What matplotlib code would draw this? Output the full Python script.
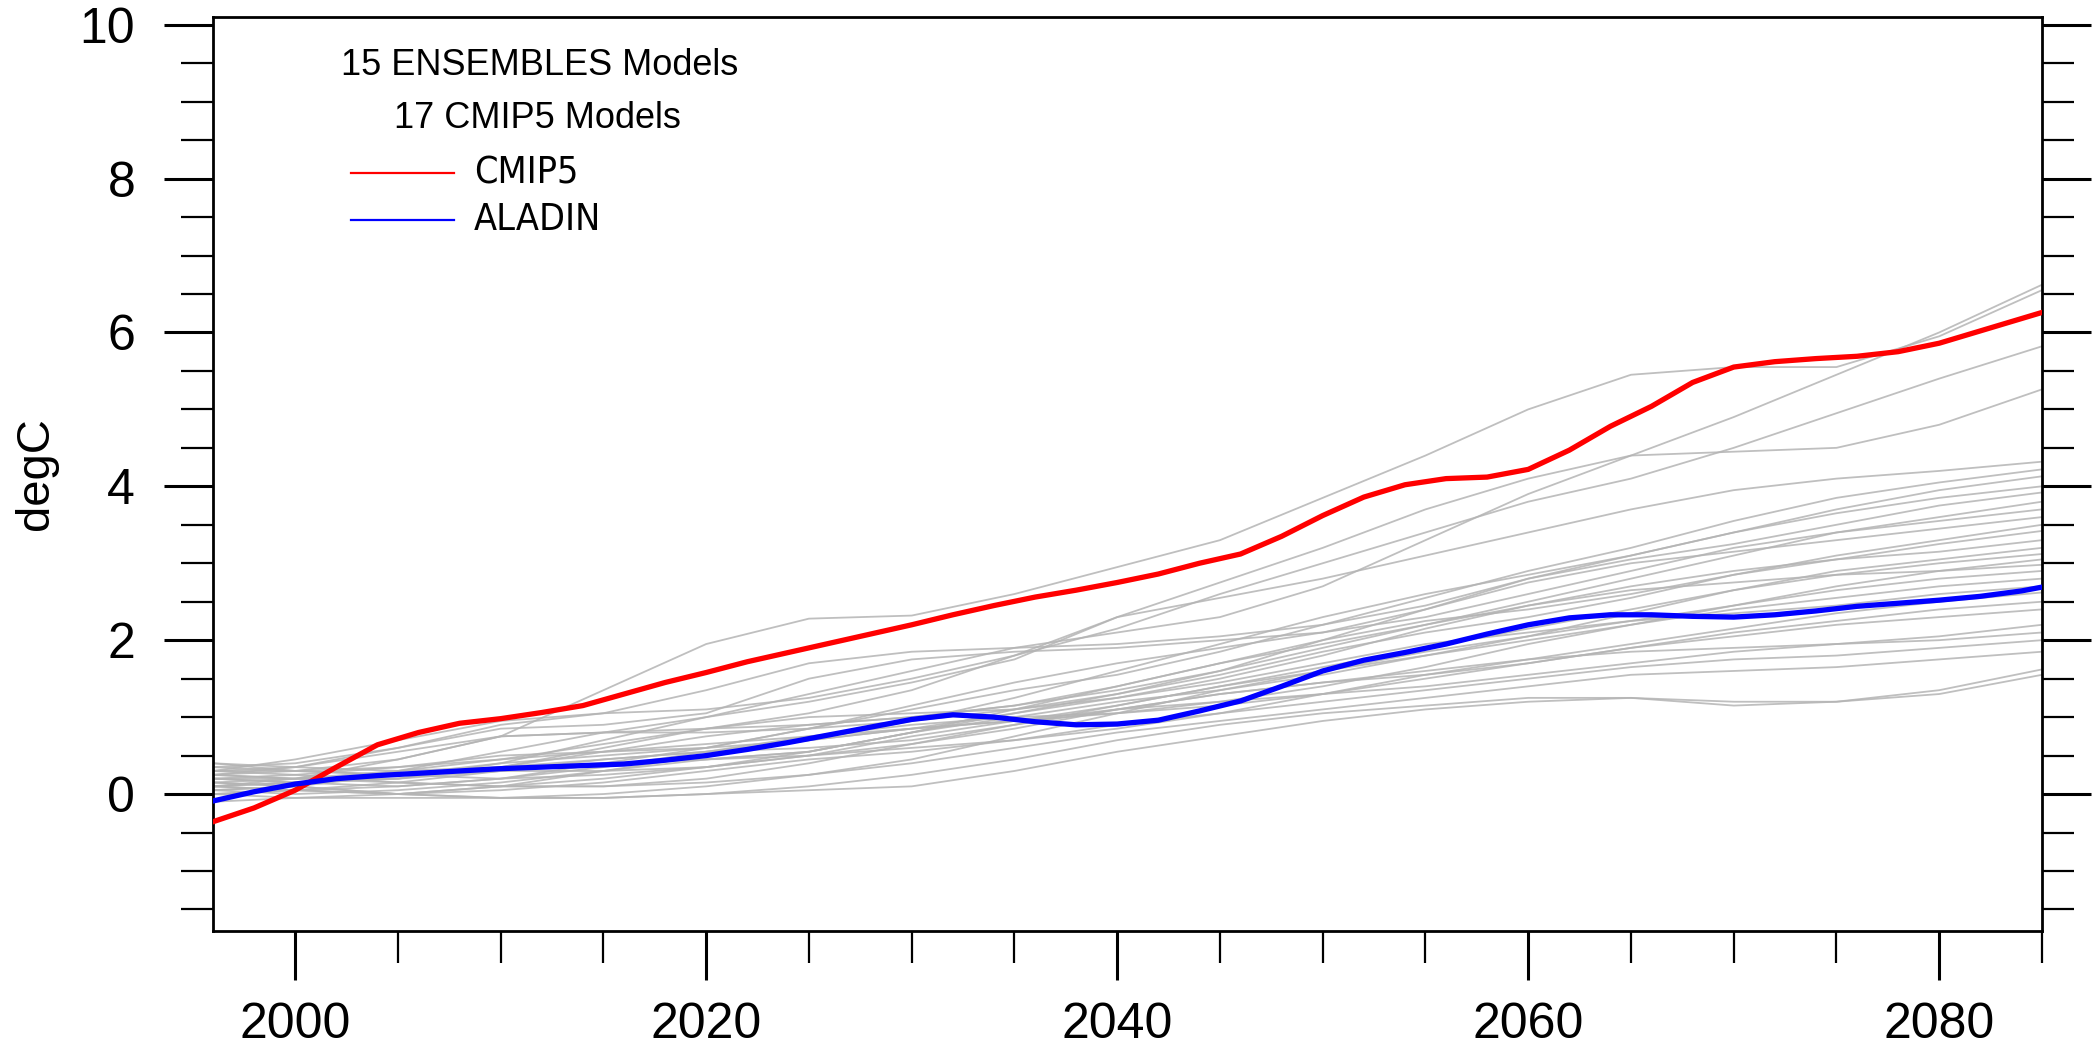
import numpy as np
import matplotlib
matplotlib.use('Agg')
import matplotlib.pyplot as plt
from matplotlib.ticker import MultipleLocator

# years for the ensemble members (read every 5 years)
years = [1996, 2000, 2005, 2010, 2015, 2020, 2025, 2030, 2035, 2040,
         2045, 2050, 2055, 2060, 2065, 2070, 2075, 2080, 2085]

# individual model runs (grey), degC
members = [
    [0.25, 0.30, 0.45, 0.75, 1.35, 1.95, 2.28, 2.32, 2.60, 2.95, 3.30, 3.85, 4.40, 5.00, 5.45, 5.55, 5.55, 5.95, 6.55],
    [0.10, 0.15, 0.20, 0.40, 0.70, 1.00, 1.30, 1.60, 1.90, 2.10, 2.30, 2.70, 3.30, 3.90, 4.40, 4.90, 5.45, 6.00, 6.62],
    [0.30, 0.35, 0.60, 0.90, 1.05, 1.10, 1.25, 1.50, 1.80, 2.15, 2.60, 3.00, 3.40, 3.80, 4.10, 4.50, 4.95, 5.40, 5.82],
    [0.05, 0.10, 0.30, 0.55, 0.80, 1.00, 1.20, 1.45, 1.75, 2.30, 2.75, 3.20, 3.70, 4.10, 4.40, 4.45, 4.50, 4.80, 5.26],
    [0.40, 0.30, 0.25, 0.35, 0.60, 0.85, 1.05, 1.35, 1.80, 2.30, 2.55, 2.80, 3.10, 3.40, 3.70, 3.95, 4.10, 4.20, 4.32],
    [0.20, 0.15, 0.10, 0.20, 0.40, 0.60, 0.85, 1.10, 1.35, 1.55, 1.85, 2.20, 2.55, 2.90, 3.20, 3.55, 3.85, 4.05, 4.22],
    [0.00, 0.05, 0.15, 0.30, 0.45, 0.55, 0.70, 0.95, 1.25, 1.60, 1.95, 2.30, 2.60, 2.85, 3.10, 3.40, 3.70, 3.95, 4.13],
    [0.30, 0.45, 0.70, 0.95, 1.05, 1.35, 1.70, 1.85, 1.90, 1.95, 2.05, 2.20, 2.45, 2.80, 3.10, 3.40, 3.65, 3.85, 4.00],
    [0.15, 0.20, 0.30, 0.45, 0.65, 0.85, 1.00, 1.05, 1.10, 1.30, 1.60, 2.00, 2.40, 2.80, 3.05, 3.25, 3.50, 3.75, 3.92],
    [0.10, 0.05, 0.00, 0.10, 0.30, 0.45, 0.55, 0.80, 1.10, 1.40, 1.70, 1.95, 2.20, 2.50, 2.80, 3.10, 3.40, 3.60, 3.80],
    [0.35, 0.40, 0.60, 0.85, 0.90, 1.05, 1.50, 1.75, 1.85, 1.90, 2.00, 2.10, 2.30, 2.60, 2.90, 3.20, 3.40, 3.55, 3.70],
    [0.05, 0.10, 0.25, 0.40, 0.50, 0.60, 0.85, 1.15, 1.45, 1.70, 1.90, 2.10, 2.40, 2.75, 3.00, 3.15, 3.30, 3.45, 3.60],
    [0.20, 0.25, 0.35, 0.50, 0.55, 0.60, 0.70, 0.85, 1.05, 1.30, 1.55, 1.85, 2.10, 2.30, 2.55, 2.85, 3.10, 3.30, 3.50],
    [0.25, 0.20, 0.20, 0.35, 0.55, 0.75, 0.90, 1.00, 1.15, 1.40, 1.70, 2.00, 2.25, 2.40, 2.60, 2.85, 3.05, 3.25, 3.42],
    [0.10, 0.20, 0.45, 0.75, 0.80, 0.80, 0.85, 0.95, 1.10, 1.25, 1.50, 1.80, 2.15, 2.45, 2.70, 2.90, 3.05, 3.15, 3.30],
    [0.00, -0.05, 0.00, 0.10, 0.20, 0.35, 0.55, 0.80, 1.00, 1.20, 1.35, 1.55, 1.80, 2.05, 2.35, 2.65, 2.90, 3.05, 3.20],
    [0.30, 0.30, 0.35, 0.45, 0.55, 0.65, 0.75, 0.85, 0.95, 1.15, 1.40, 1.65, 1.90, 2.15, 2.40, 2.65, 2.85, 3.00, 3.12],
    [0.15, 0.10, 0.00, -0.05, 0.00, 0.10, 0.25, 0.45, 0.75, 1.05, 1.35, 1.60, 1.85, 2.05, 2.25, 2.45, 2.70, 2.90, 3.05],
    [0.25, 0.35, 0.55, 0.75, 0.80, 0.85, 0.90, 1.00, 1.15, 1.35, 1.60, 1.90, 2.20, 2.45, 2.65, 2.75, 2.85, 2.90, 2.98],
    [0.05, 0.00, 0.05, 0.15, 0.30, 0.50, 0.70, 0.85, 0.95, 1.05, 1.20, 1.40, 1.65, 1.95, 2.20, 2.45, 2.65, 2.80, 2.90],
    [0.40, 0.35, 0.30, 0.35, 0.45, 0.55, 0.60, 0.70, 0.90, 1.15, 1.40, 1.60, 1.80, 2.00, 2.20, 2.40, 2.55, 2.70, 2.80],
    [0.20, 0.15, 0.20, 0.30, 0.40, 0.45, 0.55, 0.80, 1.05, 1.25, 1.45, 1.70, 1.95, 2.10, 2.25, 2.35, 2.45, 2.60, 2.70],
    [0.10, 0.15, 0.25, 0.35, 0.40, 0.45, 0.50, 0.65, 0.85, 1.10, 1.30, 1.45, 1.60, 1.75, 1.95, 2.15, 2.35, 2.50, 2.62],
    [0.30, 0.25, 0.15, 0.10, 0.10, 0.20, 0.40, 0.65, 0.90, 1.10, 1.30, 1.45, 1.55, 1.70, 1.90, 2.10, 2.25, 2.40, 2.50],
    [0.00, 0.05, 0.10, 0.20, 0.35, 0.55, 0.75, 0.90, 1.00, 1.05, 1.15, 1.30, 1.50, 1.70, 1.90, 2.05, 2.20, 2.30, 2.40],
    [0.20, 0.20, 0.25, 0.30, 0.30, 0.35, 0.50, 0.75, 0.95, 1.10, 1.20, 1.30, 1.40, 1.55, 1.70, 1.85, 1.95, 2.05, 2.20],
    [0.35, 0.30, 0.25, 0.20, 0.25, 0.35, 0.50, 0.60, 0.70, 0.85, 1.05, 1.30, 1.55, 1.75, 1.85, 1.90, 1.95, 2.00, 2.10],
    [0.10, 0.05, 0.00, 0.05, 0.15, 0.30, 0.45, 0.55, 0.70, 0.90, 1.05, 1.20, 1.35, 1.50, 1.65, 1.75, 1.80, 1.90, 2.00],
    [0.25, 0.20, 0.15, 0.10, 0.10, 0.15, 0.25, 0.40, 0.60, 0.80, 0.95, 1.10, 1.25, 1.40, 1.55, 1.60, 1.65, 1.75, 1.85],
    [-0.10, -0.05, -0.05, -0.05, -0.05, 0.00, 0.05, 0.10, 0.30, 0.55, 0.75, 0.95, 1.10, 1.20, 1.25, 1.20, 1.20, 1.35, 1.62],
    [0.15, 0.10, 0.00, -0.05, -0.05, 0.00, 0.10, 0.25, 0.45, 0.70, 0.90, 1.05, 1.15, 1.25, 1.25, 1.15, 1.20, 1.30, 1.55],
]

# ensemble means (read every 2 years)
mean_years = [1996, 1998, 2000, 2002, 2004, 2006, 2008, 2010, 2012, 2014, 2016, 2018,
              2020, 2022, 2024, 2026, 2028, 2030, 2032, 2034, 2036, 2038, 2040, 2042,
              2044, 2046, 2048, 2050, 2052, 2054, 2056, 2058, 2060, 2062, 2064, 2066,
              2068, 2070, 2072, 2074, 2076, 2078, 2080, 2082, 2084, 2085]
cmip5 = [-0.36, -0.18, 0.05, 0.35, 0.64, 0.80, 0.92, 0.98, 1.06, 1.15, 1.30, 1.45,
         1.58, 1.72, 1.84, 1.96, 2.08, 2.20, 2.33, 2.45, 2.56, 2.65, 2.75, 2.86,
         3.00, 3.12, 3.35, 3.62, 3.86, 4.02, 4.10, 4.12, 4.22, 4.47, 4.78, 5.04,
         5.35, 5.55, 5.62, 5.66, 5.69, 5.75, 5.86, 6.02, 6.18, 6.26]
aladin = [-0.09, 0.03, 0.13, 0.20, 0.24, 0.27, 0.30, 0.33, 0.35, 0.37, 0.39, 0.44,
          0.50, 0.58, 0.67, 0.77, 0.87, 0.97, 1.03, 1.00, 0.94, 0.90, 0.91, 0.96,
          1.08, 1.21, 1.40, 1.60, 1.74, 1.84, 1.95, 2.08, 2.20, 2.29, 2.33, 2.33,
          2.31, 2.30, 2.33, 2.38, 2.44, 2.48, 2.52, 2.57, 2.64, 2.69]

plt.rcParams['font.family'] = ['Liberation Sans', 'DejaVu Sans']

fig = plt.figure(figsize=(20.92, 10.52), dpi=100)
ax = fig.add_axes([213 / 2092, 121 / 1052, 1829 / 2092, 914 / 1052])

for m in members:
    ax.plot(years, m, color='#b4b4b4', lw=1.3, alpha=0.85, zorder=1)
ax.plot(mean_years, cmip5, color='#ff0000', lw=3.8, zorder=3)
ax.plot(mean_years, aladin, color='#0000ff', lw=3.8, zorder=3)

ax.set_xlim(1996, 2085)
ax.set_ylim(-1.78, 10.1)
ax.xaxis.set_major_locator(MultipleLocator(20))
ax.xaxis.set_minor_locator(MultipleLocator(5))
ax.yaxis.set_major_locator(MultipleLocator(2))
ax.yaxis.set_minor_locator(MultipleLocator(0.5))

for s in ax.spines.values():
    s.set_linewidth(2.0)
ax.tick_params(which='both', direction='out', right=True, top=False, labelright=False)
ax.tick_params(which='major', length=35, width=2.2, labelsize=36)
ax.tick_params(which='minor', length=23, width=1.6)
ax.tick_params(axis='x', which='major', pad=16)
ax.tick_params(axis='y', which='major', pad=21)

ax.set_ylabel('degC', fontsize=34, va='center')
ax.yaxis.set_label_coords(-0.097, 0.5)

# legend-like annotation, placed in axes fraction
ax.text((540 - 213) / 1829, (931 - 73) / 906, '15 ENSEMBLES Models', transform=ax.transAxes,
        ha='center', va='center', fontsize=26)
ax.text((537 - 213) / 1829, (931 - 126) / 906, '17 CMIP5 Models', transform=ax.transAxes,
        ha='center', va='center', fontsize=26)
ax.plot([(351 - 213) / 1829, (454 - 213) / 1829], [(931 - 180) / 906] * 2, color='#ff0000',
        lw=1.6, transform=ax.transAxes)
ax.plot([(351 - 213) / 1829, (454 - 213) / 1829], [(931 - 226) / 906] * 2, color='#0000ff',
        lw=1.6, transform=ax.transAxes)
ax.text((474 - 213) / 1829, (931 - 180) / 906, 'CMIP5', transform=ax.transAxes,
        ha='left', va='center', fontsize=27, fontstretch='condensed',
        family=['DejaVu Sans', 'Liberation Sans'])
ax.text((474 - 213) / 1829, (931 - 226) / 906, 'ALADIN', transform=ax.transAxes,
        ha='left', va='center', fontsize=27, fontstretch='condensed',
        family=['DejaVu Sans', 'Liberation Sans'])

fig.savefig('out.png', dpi=100)
